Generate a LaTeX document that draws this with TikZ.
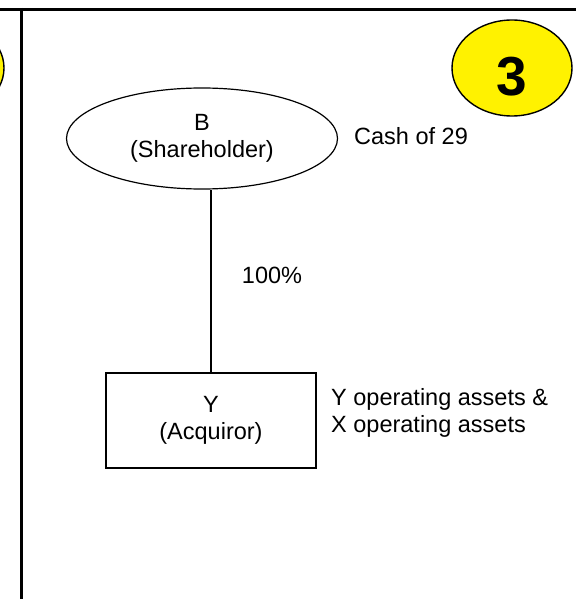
\documentclass[tikz,border=0pt]{standalone}
\usepackage{fontspec}
\setmainfont{Liberation Sans}
\usetikzlibrary{shapes.geometric}
\begin{document}
\begin{tikzpicture}[x=1pt, y=-1pt,
		txt/.style={font=\fontsize{23.5}{27}\selectfont, align=center, inner sep=0pt},
		badge/.style={ellipse, draw, line width=1.4pt, fill=yellow, minimum width=120pt, minimum height=96pt, inner sep=0pt},
		holderbox/.style={ellipse, draw, line width=1.2pt, minimum width=271pt, minimum height=101pt},
		firmbox/.style={rectangle, draw, line width=1.2pt, minimum width=210pt, minimum height=95pt}]
		\useasboundingbox (0,0) rectangle (576,599);

		% frame of the panel
		\draw[line width=3pt] (0,9.5) -- (576,9.5);
		\draw[line width=2.7pt] (21.3,8) -- (21.3,599);

		% step badges
		\node[badge] (prev) at (-56,68) {};
		\node[badge] (three) at (512,68) {};
		\node[font=\fontsize{55}{55}\selectfont\bfseries, inner sep=0pt] (num) at (512,77) {3};

		% structure
		\node[holderbox, txt] (holder) at (202,138.5) {B\\(Shareholder)};
		\node[firmbox, txt] (acq) at (211,420.5) {Y\\(Acquiror)};
		\draw[line width=1.2pt] (acq.north) -- (acq.north |- holder.south);

		\node[txt] (stake) at (272,275) {100\%};
		\node[txt, anchor=west] (cash) at (354,136) {Cash of 29};
		\node[txt, anchor=west, align=left] (assets) at (331,412.5) {Y operating assets \&\\X operating assets};
	\end{tikzpicture}
\end{document}
